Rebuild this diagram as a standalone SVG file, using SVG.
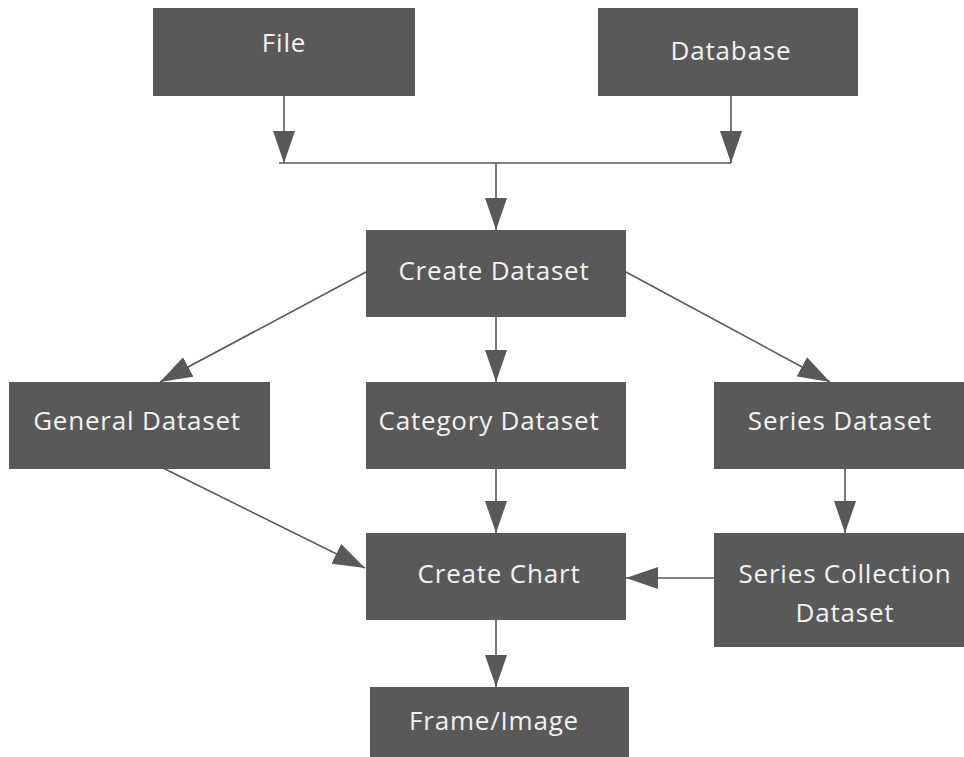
<svg xmlns="http://www.w3.org/2000/svg" width="964" height="757" viewBox="0 0 964 757">
<style>
.box{fill:#595959;}
.t{font-family:"Open Sans","Liberation Sans",sans-serif;font-size:26px;letter-spacing:0.8px;fill:#f2f2f2;text-anchor:middle;}
.c{stroke:#595959;stroke-width:1.6;fill:none;}
</style>
<defs>
<marker id="ah" viewBox="0 0 32 22" refX="32" refY="11" markerWidth="32" markerHeight="22" markerUnits="userSpaceOnUse" orient="auto">
<path d="M0,0 L32,11 L0,22 Z" fill="#595959"/>
</marker>
</defs>
<rect width="964" height="757" fill="#ffffff"/>
<g id="connectors">
<line class="c" x1="284" y1="96" x2="284" y2="163" marker-end="url(#ah)"/>
<line class="c" x1="731" y1="96" x2="731" y2="163" marker-end="url(#ah)"/>
<line class="c" x1="279" y1="163" x2="731" y2="163"/>
<line class="c" x1="496" y1="163" x2="496" y2="230" marker-end="url(#ah)"/>
<line class="c" x1="366" y1="272" x2="160" y2="382" marker-end="url(#ah)"/>
<line class="c" x1="496" y1="317" x2="496" y2="382" marker-end="url(#ah)"/>
<line class="c" x1="626" y1="272" x2="830" y2="382" marker-end="url(#ah)"/>
<line class="c" x1="163" y1="468" x2="365" y2="568" marker-end="url(#ah)"/>
<line class="c" x1="496" y1="469" x2="496" y2="533" marker-end="url(#ah)"/>
<line class="c" x1="845" y1="469" x2="845" y2="533" marker-end="url(#ah)"/>
<line class="c" x1="714" y1="578" x2="626" y2="578" marker-end="url(#ah)"/>
<line class="c" x1="496" y1="620" x2="496" y2="687" marker-end="url(#ah)"/>
</g>
<g id="file"><rect class="box" x="153" y="8" width="262" height="88"/><text class="t" x="284" y="52">File</text></g>
<g id="database"><rect class="box" x="598" y="8" width="260" height="88"/><text class="t" x="731" y="60">Database</text></g>
<g id="create-dataset"><rect class="box" x="366" y="230" width="260" height="87"/><text class="t" x="494" y="280">Create Dataset</text></g>
<g id="general-dataset"><rect class="box" x="9" y="382" width="261" height="87"/><text class="t" x="137" y="430">General Dataset</text></g>
<g id="category-dataset"><rect class="box" x="366" y="382" width="260" height="87"/><text class="t" x="489" y="430">Category Dataset</text></g>
<g id="series-dataset"><rect class="box" x="714" y="382" width="254" height="87"/><text class="t" x="840" y="430">Series Dataset</text></g>
<g id="create-chart"><rect class="box" x="366" y="533" width="260" height="87"/><text class="t" x="499" y="583">Create Chart</text></g>
<g id="series-collection"><rect class="box" x="714" y="533" width="254" height="114"/><text class="t" x="845" y="583">Series Collection</text><text class="t" x="845" y="622">Dataset</text></g>
<g id="frame-image"><rect class="box" x="370" y="687" width="259" height="75"/><text class="t" x="494" y="730">Frame/Image</text></g>
</svg>
